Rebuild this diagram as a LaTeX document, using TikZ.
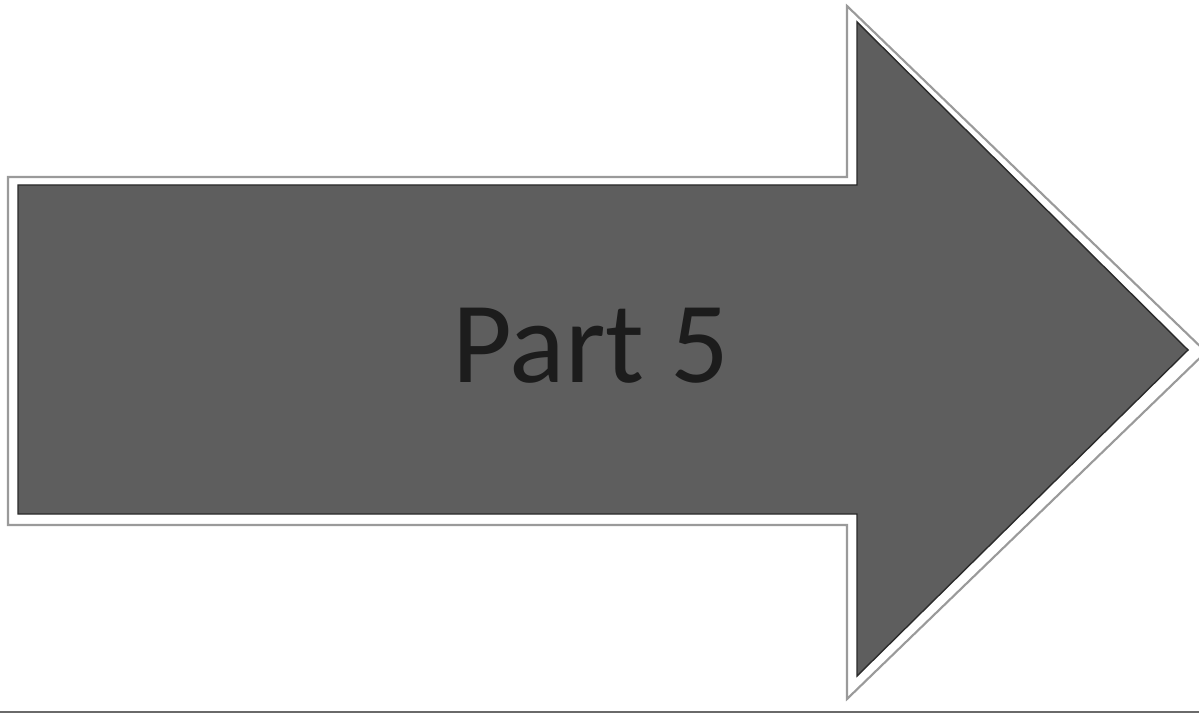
\documentclass[tikz,border=0pt]{standalone}
\usepackage{fontspec}
\setmainfont{Carlito}
\usepackage{tikz}
\usetikzlibrary{positioning}
\definecolor{ArrowFill}{HTML}{5E5E5E}
\definecolor{ArrowEdge}{HTML}{2B2B2B}
\definecolor{FrameEdge}{HTML}{9A9A9A}
\definecolor{LabelInk}{HTML}{1C1C1C}
\definecolor{PageEdge}{HTML}{6A6A6A}

\begin{document}
\begin{tikzpicture}[x=0.02cm, y=-0.02cm]
  \useasboundingbox[fill=white] (0,0) rectangle (1199,715);

  % White frame round the arrow
  \draw[fill=white, draw=FrameEdge, line width=1.2pt, line join=miter]
    (8,177) -- (847,177) -- (847,6) -- (1206,352) -- (847,699) -- (847,525) -- (8,525) -- cycle;

  % Arrow body
  \draw[fill=ArrowFill, draw=ArrowEdge, line width=0.8pt, line join=miter]
    (18,185) -- (857,185) -- (857,22) -- (1188,350) -- (857,676) -- (857,514) -- (18,514) -- cycle;

  % Label
  \node[font=\fontsize{66}{70}\selectfont, text=LabelInk] (label) at (591,346) {Part 5};

  % Page edge
  \draw[PageEdge, line width=1.6pt] (0,712) -- (1199,712);
\end{tikzpicture}
\end{document}
